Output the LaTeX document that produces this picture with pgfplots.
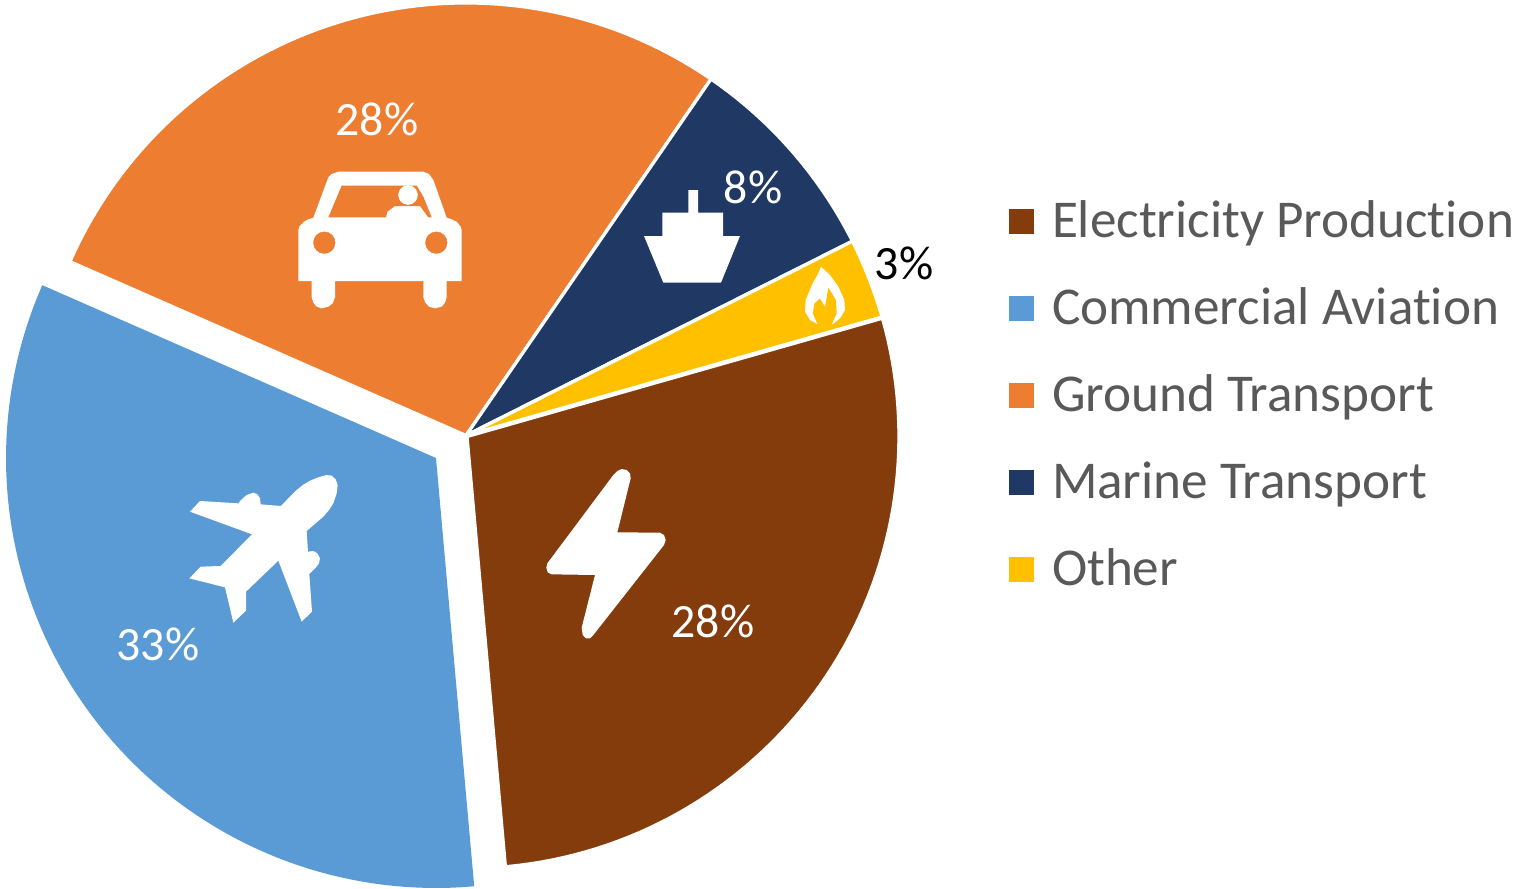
\documentclass[border=0pt]{standalone}
\usepackage{fontspec}
\setmainfont{Carlito}[Ligatures=NoCommon]
\usepackage{pgfplots}
\usepackage{pgfplotstable}
\pgfplotsset{compat=1.18}

\definecolor{elec}{HTML}{843C0C}
\definecolor{avia}{HTML}{5B9BD5}
\definecolor{ground}{HTML}{ED7D31}
\definecolor{marine}{HTML}{203864}
\definecolor{other}{HTML}{FFC000}
\definecolor{legendtext}{HTML}{595959}

% Share of each source, in percent, clockwise from the first slice
\pgfplotstableread{
share
28
33
28
8
3
}\sharetable

% Running start angle of the next slice, in degrees
\xdef\sliceangle{15.9}

% #1 row, #2 colour, #3 centre x, #4 centre y, #5 radius, #6 outline
\newcommand\pieslice[6]{%
  \pgfplotstablegetelem{#1}{share}\of\sharetable
  \pgfmathsetmacro\sliceend{\sliceangle-3.6*\pgfplotsretval}%
  \pgfmathsetmacro\slicenext{\sliceangle-1.5}%
  \xdef\slicepts{(#3,#4)}%
  \foreach \a in {\sliceangle,\slicenext,...,\sliceend}{%
    \pgfmathsetmacro\px{#3+#5*cos(\a)}%
    \pgfmathsetmacro\py{#4-#5*sin(\a)}%
    \xdef\slicepts{\slicepts(\px,\py)}%
  }%
  \pgfmathsetmacro\px{#3+#5*cos(\sliceend)}%
  \pgfmathsetmacro\py{#4-#5*sin(\sliceend)}%
  \xdef\slicepts{\slicepts(\px,\py)}%
  \edef\slicecmd{\noexpand\addplot[fill=#2,#6] coordinates {\slicepts} --cycle;}%
  \slicecmd
  \xdef\sliceangle{\sliceend}%
}

\pgfplotsset{
  icon at/.style 2 args={
    forget plot,
    fill=#1,draw=none,
    x filter/.expression={#2+x/3},
  },
  icon y/.style={y filter/.expression={#1+y/3}},
  edged/.style={draw=white,line width=3.3pt,line join=miter},
}
\tikzset{pct/.style={font=\fontsize{47.8}{48}\selectfont,anchor=base,inner sep=0pt}}

\begin{document}
\begin{tikzpicture}
\path[use as bounding box] (0,0) rectangle (1513pt,889pt);
\begin{axis}[
  scale only axis,
  width=1513pt,height=889pt,
  xmin=0,xmax=1513,ymin=0,ymax=889,
  y dir=reverse,
  hide axis,
  clip=false,
  legend image code/.code={\fill[#1,draw=none] (0pt,-6.5pt) rectangle (25pt,18.5pt);},
  legend cell align=left,
  legend style={
    at={(axis cs:1009,207)},anchor=north west,
    draw=none,fill=none,inner sep=0pt,outer sep=0pt,
    font=\fontsize{53.2}{54}\selectfont,text=legendtext,
    row sep=47pt,
    nodes={inner sep=0pt,outer sep=0pt,text height=30pt,text depth=10pt},
    /tikz/every odd column/.append style={column sep=18pt},
  },
]
% Slices
\pieslice{0}{elec}{467}{436.5}{432}{edged}
\addlegendentry{Electricity Production}
\pieslice{1}{avia}{436}{458}{430}{draw=none}
\addlegendentry{Commercial Aviation}
\pieslice{2}{ground}{466}{435.5}{432.6}{edged}
\addlegendentry{Ground Transport}
\pieslice{3}{marine}{466}{435.5}{432.6}{edged}
\addlegendentry{Marine Transport}
\pieslice{4}{other}{466}{435.5}{432.6}{edged}
\addlegendentry{Other}

% Car
\addplot[icon at={white}{280},icon y=90] coordinates {(55,420)(58,410)(72,395)(85,388)(100,383)(145,262)(155,252)(175,245)(430,245)(447,252)(460,270)(500,383)(515,388)(530,395)(542,410)(545,420)(545,573)(500,573)(500,622)(495,638)(485,650)(465,655)(447,650)(436,638)(430,622)(430,573)(165,573)(165,622)(158,640)(145,650)(125,655)(110,650)(100,638)(95,622)(95,573)(55,573)} --cycle;
\addplot[icon at={ground}{280},icon y=90] coordinates {(145,382)(185,287)(410,287)(430,320)(455,382)(445,382)(420,348)(345,348)(322,365)(318,382)} --cycle;
\addplot[forget plot,color=ground,only marks,mark=*,mark size=10.8pt,mark options={fill=ground}] coordinates {(324.3,242.7)(436.3,242.7)};
\addplot[forget plot,color=white,only marks,mark=*,mark size=9.5pt,mark options={fill=white}] coordinates {(408,195)};

% Ship
\addplot[icon at={white}{630},icon y=150] coordinates {(175,120)(204,120)(204,188)(279,188)(279,258)(330,258)(273,398)(100,398)(42,258)(97,258)(97,188)(175,188)} --cycle;

% Flame
\addplot[icon at={white}{630},icon y=150] coordinates {(573,350)(600,375)(625,410)(643,450)(645,480)(630,505)(605,525)(620,490)(618,450)(595,412)(585,470)(570,445)(553,460)(548,490)(562,522)(540,510)(525,485)(527,450)(548,400)(565,370)} --cycle;

% Aeroplane
\addplot[icon at={white}{170},icon y=460] coordinates {(60,155)(90,123)(205,130)(215,118)(230,105)(250,98)(262,103)(270,115)(272,133)(333,138)(355,115)(380,90)(400,74)(420,62)(445,52)(470,45)(485,47)(497,58)(503,75)(500,100)(490,130)(477,150)(460,170)(410,213)(414,275)(430,273)(442,280)(450,295)(447,310)(438,322)(418,342)(426,455)(395,485)(325,302)(228,395)(228,452)(190,488)(165,382)(58,355)(92,320)(152,318)(246,223)} --cycle;

% Lightning bolt
\addplot[icon at={white}{530},icon y=455] coordinates {(250,60)(262,48)(275,42)(290,45)(300,55)(302,70)(262,232)(390,233)(402,240)(407,255)(402,270)(190,540)(180,550)(168,550)(158,540)(155,518)(195,360)(65,358)(53,352)(49,338)(52,325)} --cycle;

% Percentages
\node[pct,text=white] at (axis cs:377,135) {28\%};
\node[pct,text=white] at (axis cs:753,203) {8\%};
\node[pct,text=black] at (axis cs:904,279) {3\%};
\node[pct,text=white] at (axis cs:158,660) {33\%};
\node[pct,text=white] at (axis cs:713,637) {28\%};
\end{axis}
\end{tikzpicture}
\end{document}
